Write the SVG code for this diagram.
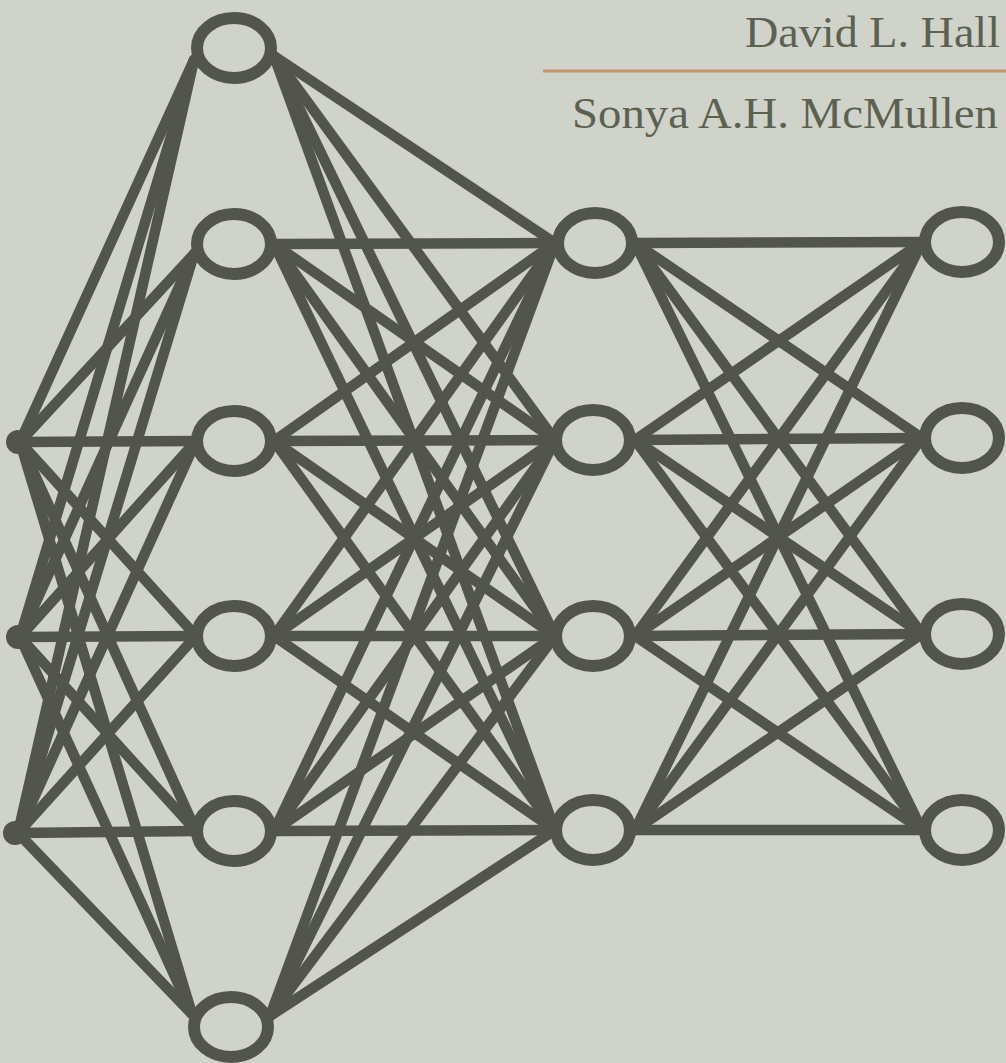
<svg xmlns="http://www.w3.org/2000/svg" width="1006" height="1063" viewBox="0 0 1006 1063">
<style>
.bg{fill:#d0d3ca}
.e{stroke:#52554c;stroke-width:10.5;stroke-linecap:round;fill:none}
.n{fill:#d0d3ca;stroke:#52554c;stroke-width:12}
.d{fill:#52554c}
.t{font-family:"Liberation Serif",serif;fill:#5c6150;font-size:45px}
</style>
<rect class="bg" x="0" y="0" width="1006" height="1063"/>
<line x1="543" y1="71" x2="1006" y2="71" stroke="#c4946a" stroke-width="3"/>
<text class="t" x="1000" y="47" text-anchor="end" textLength="255" lengthAdjust="spacingAndGlyphs">David L. Hall</text>
<text class="t" x="998" y="128" text-anchor="end" textLength="426" lengthAdjust="spacingAndGlyphs">Sonya A.H. McMullen</text>
<g id="connectors">
<line class="e" x1="20" y1="442" x2="194" y2="60"/>
<line class="e" x1="20" y1="442" x2="194" y2="254"/>
<line class="e" x1="20" y1="442" x2="196" y2="441"/>
<line class="e" x1="20" y1="442" x2="196" y2="636"/>
<line class="e" x1="20" y1="442" x2="196" y2="831"/>
<line class="e" x1="20" y1="442" x2="192" y2="1014"/>
<line class="e" x1="20" y1="637" x2="194" y2="60"/>
<line class="e" x1="20" y1="637" x2="194" y2="254"/>
<line class="e" x1="20" y1="637" x2="196" y2="441"/>
<line class="e" x1="20" y1="637" x2="196" y2="636"/>
<line class="e" x1="20" y1="637" x2="196" y2="831"/>
<line class="e" x1="20" y1="637" x2="192" y2="1014"/>
<line class="e" x1="18" y1="833" x2="194" y2="60"/>
<line class="e" x1="18" y1="833" x2="194" y2="254"/>
<line class="e" x1="18" y1="833" x2="196" y2="441"/>
<line class="e" x1="18" y1="833" x2="196" y2="636"/>
<line class="e" x1="18" y1="833" x2="196" y2="831"/>
<line class="e" x1="18" y1="833" x2="192" y2="1014"/>
<line class="e" x1="274" y1="56" x2="555" y2="243"/>
<line class="e" x1="274" y1="56" x2="555" y2="440"/>
<line class="e" x1="274" y1="56" x2="555" y2="636"/>
<line class="e" x1="274" y1="56" x2="555" y2="830"/>
<line class="e" x1="274" y1="244" x2="555" y2="243"/>
<line class="e" x1="274" y1="244" x2="555" y2="440"/>
<line class="e" x1="274" y1="244" x2="555" y2="636"/>
<line class="e" x1="274" y1="244" x2="555" y2="830"/>
<line class="e" x1="274" y1="441" x2="555" y2="243"/>
<line class="e" x1="274" y1="441" x2="555" y2="440"/>
<line class="e" x1="274" y1="441" x2="555" y2="636"/>
<line class="e" x1="274" y1="441" x2="555" y2="830"/>
<line class="e" x1="274" y1="636" x2="555" y2="243"/>
<line class="e" x1="274" y1="636" x2="555" y2="440"/>
<line class="e" x1="274" y1="636" x2="555" y2="636"/>
<line class="e" x1="274" y1="636" x2="555" y2="830"/>
<line class="e" x1="274" y1="831" x2="555" y2="243"/>
<line class="e" x1="274" y1="831" x2="555" y2="440"/>
<line class="e" x1="274" y1="831" x2="555" y2="636"/>
<line class="e" x1="274" y1="831" x2="555" y2="830"/>
<line class="e" x1="270" y1="1016" x2="555" y2="243"/>
<line class="e" x1="270" y1="1016" x2="555" y2="440"/>
<line class="e" x1="270" y1="1016" x2="555" y2="636"/>
<line class="e" x1="270" y1="1016" x2="555" y2="830"/>
<line class="e" x1="635" y1="243" x2="922" y2="242"/>
<line class="e" x1="635" y1="243" x2="922" y2="438"/>
<line class="e" x1="635" y1="243" x2="922" y2="634"/>
<line class="e" x1="635" y1="243" x2="922" y2="830"/>
<line class="e" x1="635" y1="440" x2="922" y2="242"/>
<line class="e" x1="635" y1="440" x2="922" y2="438"/>
<line class="e" x1="635" y1="440" x2="922" y2="634"/>
<line class="e" x1="635" y1="440" x2="922" y2="830"/>
<line class="e" x1="635" y1="636" x2="922" y2="242"/>
<line class="e" x1="635" y1="636" x2="922" y2="438"/>
<line class="e" x1="635" y1="636" x2="922" y2="634"/>
<line class="e" x1="635" y1="636" x2="922" y2="830"/>
<line class="e" x1="635" y1="830" x2="922" y2="242"/>
<line class="e" x1="635" y1="830" x2="922" y2="438"/>
<line class="e" x1="635" y1="830" x2="922" y2="634"/>
<line class="e" x1="635" y1="830" x2="922" y2="830"/>
</g>
<g id="in1"><circle class="d" cx="18" cy="442" r="12"/></g>
<g id="in2"><circle class="d" cx="18" cy="637" r="12"/></g>
<g id="in3"><circle class="d" cx="15" cy="833" r="12"/></g>
<g id="h1"><ellipse class="n" cx="234" cy="48" rx="37" ry="30"/></g>
<g id="h2"><ellipse class="n" cx="234" cy="244" rx="37" ry="30"/></g>
<g id="h3"><ellipse class="n" cx="234" cy="441" rx="37" ry="30"/></g>
<g id="h4"><ellipse class="n" cx="234" cy="636" rx="37" ry="30"/></g>
<g id="h5"><ellipse class="n" cx="234" cy="831" rx="37" ry="30"/></g>
<g id="h6"><ellipse class="n" cx="231" cy="1027" rx="37" ry="30"/></g>
<g id="m1"><ellipse class="n" cx="595" cy="243" rx="37" ry="30"/></g>
<g id="m2"><ellipse class="n" cx="593" cy="440" rx="37" ry="30"/></g>
<g id="m3"><ellipse class="n" cx="593" cy="636" rx="37" ry="30"/></g>
<g id="m4"><ellipse class="n" cx="593" cy="830" rx="37" ry="30"/></g>
<g id="o1"><ellipse class="n" cx="962" cy="242" rx="37" ry="30"/></g>
<g id="o2"><ellipse class="n" cx="962" cy="438" rx="37" ry="30"/></g>
<g id="o3"><ellipse class="n" cx="962" cy="634" rx="37" ry="30"/></g>
<g id="o4"><ellipse class="n" cx="962" cy="830" rx="37" ry="30"/></g>
</svg>
